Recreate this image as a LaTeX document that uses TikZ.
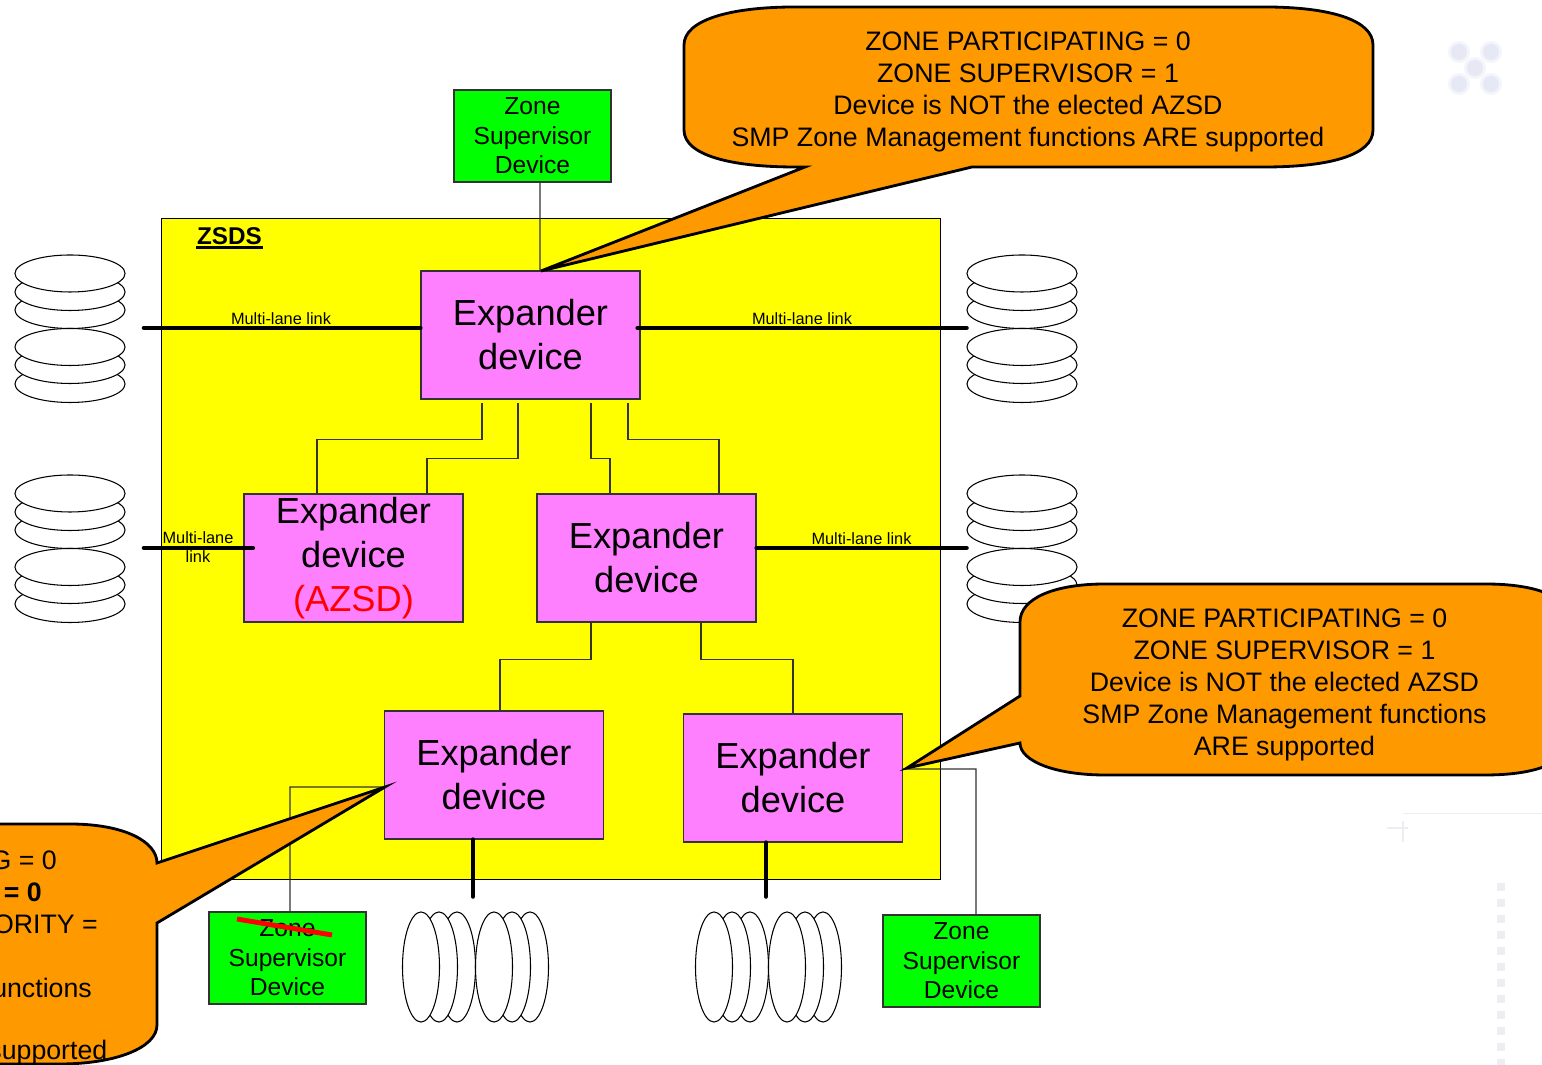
\documentclass[tikz,border=0pt]{standalone}
\usepackage{fontspec}
\setmainfont{Liberation Sans}
\usetikzlibrary{positioning,shapes.geometric}
\definecolor{zsdsyellow}{HTML}{FFFF00}
\definecolor{expmagenta}{HTML}{FF80FF}
\definecolor{supgreen}{HTML}{00FF00}
\definecolor{calloutorange}{HTML}{FF9900}
\definecolor{ghostblue}{HTML}{E6E8F4}
\definecolor{ghostpale}{HTML}{F4F5FA}
\definecolor{ghostgrey}{HTML}{EEEEF2}
\begin{document}
\begin{tikzpicture}[x=.01cm,y=-.01cm,
        exp node/.style={rectangle,draw=black!80,fill=expmagenta,line width=.35pt,minimum width=2.19cm,minimum height=1.28cm,inner sep=0pt,align=center,font=\fontsize{10.3}{12.5}\selectfont},
        sup node/.style={rectangle,draw=black!80,fill=supgreen,line width=.35pt,minimum width=1.57cm,minimum height=.92cm,inner sep=0pt,align=center,font=\fontsize{7}{8.35}\selectfont},
        disk node/.style={ellipse,draw=black,fill=white,line width=.3pt,inner sep=0pt},
        flat disk/.style={disk node,minimum width=1.1cm,minimum height=.37cm},
        tall disk/.style={disk node,minimum width=.37cm,minimum height=1.1cm},
        link label/.style={inner sep=0pt,align=center,font=\fontsize{4.65}{5.4}\selectfont},
        callout text/.style={inner sep=0pt,align=center,font=\fontsize{7.6}{9.1}\selectfont},
        cut text/.style={inner sep=0pt,anchor=east,font=\fontsize{7.6}{9.1}\selectfont},
        wire/.style={draw=black!80,line width=.4pt},
        thick link/.style={draw=black,line width=1.3pt,line cap=round},
        callout/.style={draw=black,fill=calloutorange,line width=.8pt,line join=miter}]

        \useasboundingbox (0,0) rectangle (1542,1065);
        \clip (0,0) rectangle (1542,1065);

        % faint marks at the right edge
        \foreach \cx/\cy in {1459/52,1491/52,1475/68,1459/84,1491/84} {
          \fill[ghostpale] (\cx,\cy) circle (.11cm);
          \fill[ghostblue] (\cx,\cy) circle (.08cm);
        }
        \draw[ghostgrey,line width=.25pt] (1403,813) -- (1542,813);
        \draw[ghostgrey,line width=.6pt] (1387,828) -- (1408,828) (1403,821) -- (1403,842);
        \foreach \dy in {887,903,...,1063}
          \fill[ghostgrey] (1497,\dy-4) rectangle (1505,\dy+4);

        % the domain
        \node[rectangle,draw=black,fill=zsdsyellow,line width=.35pt,minimum width=7.78cm,minimum height=6.6cm,inner sep=0pt] (zsds) at (551,549) {};
        \node[inner sep=0pt,font=\fontsize{6.9}{8}\selectfont\bfseries] (zsdslabel) at (229.5,236) {ZSDS};
        \draw[line width=.7pt] ([yshift=-.02cm]zsdslabel.south west) -- ([yshift=-.02cm]zsdslabel.south east);

        % disks
        \foreach \dx/\dn in {70/l,1022/r} {
          \foreach \dy/\dm in {310/a,292/b,273.5/c,384/d,365/e,347/f,530/g,512/h,493.5/i,604/j,585/k,567/m}
            \node[flat disk] (disk\dn\dm) at (\dx,\dy) {};
        }
        \foreach \dx/\dm in {457/a,439/b,421/c,530/d,512/e,494/f}
          \node[tall disk] (diskp\dm) at (\dx,967) {};
        \foreach \dx/\dm in {750/a,732/b,714/c,823/d,805/e,787/f}
          \node[tall disk] (diskq\dm) at (\dx,967) {};

        \node[exp node] (exptop) at (530.5,335) {Expander\\device};
        \node[exp node] (expazsd) at (353.5,558) {Expander\\device\\\textcolor{red}{(AZSD)}};
        \node[exp node] (expmid) at (646.5,558) {Expander\\device};
        \node[exp node] (expleft) at (494,775) {Expander\\device};
        \node[exp node] (expright) at (793,778) {Expander\\device};

        \node[sup node] (suptop) at (532.5,136) {Zone\\Supervisor\\Device};
        \node[sup node] (supleft) at (287.5,958) {Zone\\Supervisor\\Device};
        \node[sup node] (supright) at (961.5,961) {Zone\\Supervisor\\Device};

        % supervisor wires
        \draw[wire] ([xshift=.075cm]suptop.south) -- ([xshift=.095cm]exptop.north);
        \draw[wire] ([yshift=.09cm]expright.east) -- (976,769) -- ([xshift=.145cm]supright.north);
        \draw[wire] ([yshift=-.12cm]expleft.west) -- (290,787) -- ([xshift=.025cm]supleft.north);

        % wires between expanders
        \draw[wire] ([xshift=-.485cm,yshift=-.03cm]exptop.south) -- ++(0,37) -| ([xshift=-.365cm]expazsd.north);
        \draw[wire] ([xshift=-.125cm,yshift=-.03cm]exptop.south) -- ++(0,56) -| ([xshift=.735cm]expazsd.north);
        \draw[wire] ([xshift=.605cm,yshift=-.03cm]exptop.south) -- ++(0,56) -| ([xshift=-.365cm]expmid.north);
        \draw[wire] ([xshift=.975cm,yshift=-.03cm]exptop.south) -- ++(0,37) -| ([xshift=.725cm]expmid.north);
        \draw[wire] ([xshift=-.555cm]expmid.south) -- ++(0,37) -| ([xshift=.06cm]expleft.north);
        \draw[wire] ([xshift=.545cm]expmid.south) -- ++(0,37) -| (expright.north);

        % multi-lane links
        \coordinate (lanea) at (144,328);
        \coordinate (laneb) at (144,548);
        \coordinate (lanec) at (966.5,328);
        \coordinate (laned) at (966.5,548);
        \coordinate (lanee) at (473,896.5);
        \coordinate (lanef) at (766,896.5);
        \draw[thick link] (lanea) -- (lanea -| exptop.west);
        \draw[thick link] ([xshift=-.03cm]lanec -| exptop.east) -- (lanec);
        \draw[thick link] (laneb) -- ([xshift=.095cm]laneb -| expazsd.west);
        \draw[thick link] (laned -| expmid.east) -- (laned);
        \draw[thick link] (expleft.south -| lanee) -- (lanee);
        \draw[thick link] (expright.south -| lanef) -- (lanef);
        \node[link label] (lanetxta) at (281,318.5) {Multi-lane link};
        \node[link label] (lanetxtc) at (802,318.5) {Multi-lane link};
        \node[link label] (lanetxtb) at (198,547.5) {Multi-lane\\link};
        \node[link label] (lanetxtd) at (861.5,538.5) {Multi-lane link};

        % not a supervisor any more
        \coordinate (strikea) at (237,919);
        \coordinate (strikeb) at (332,935);
        \draw[red,line width=1.4pt] (strikea) -- (strikeb);

        % callouts
        \draw[callout] (684,45) .. controls (684,20) and (730,7) .. (795,7) -- (1265,7)
          .. controls (1330,7) and (1373,20) .. (1373,45) -- (1373,130)
          .. controls (1373,155) and (1330,167) .. (1265,167) -- (972,167) -- (541,271) -- (805,167) -- (795,167)
          .. controls (730,167) and (684,155) .. (684,130) -- cycle;
        \node[callout text] (calltop) at (1028,92) {ZONE PARTICIPATING = 0\\ZONE SUPERVISOR = 1\\Device is NOT the elected AZSD\\SMP Zone Management functions ARE supported};

        \draw[callout] (1020,622) .. controls (1020,598) and (1055,584) .. (1105,584) -- (1485,584)
          .. controls (1540,584) and (1570,598) .. (1570,622) -- (1570,737)
          .. controls (1570,761) and (1540,775) .. (1485,775) -- (1105,775)
          .. controls (1055,775) and (1020,761) .. (1020,743) -- (907,768) -- (1020,696) -- cycle;
        \node[callout text] (callright) at (1284.5,685) {ZONE PARTICIPATING = 0\\ZONE SUPERVISOR = 1\\Device is NOT the elected AZSD\\SMP Zone Management functions\\ARE supported};

        \draw[callout] (-60,824) -- (70,824) .. controls (125,824) and (157,842) .. (157,863) -- (385,787) -- (157,923) -- (157,1025)
          .. controls (157,1048) and (115,1064) .. (60,1064) -- (-60,1064) -- cycle;
        \node[cut text] (cutg) at (57.5,860) {G = 0};
        \node[cut text,font=\fontsize{7.6}{9.1}\selectfont\bfseries] (cuts) at (42.5,892) {= 0};
        \node[cut text] (cutp) at (98.5,924) {ORITY =};
        \node[cut text] (cutf) at (92.5,988) {unctions};
        \node[cut text] (cuta) at (108,1053) {supported};
\end{tikzpicture}
\end{document}
